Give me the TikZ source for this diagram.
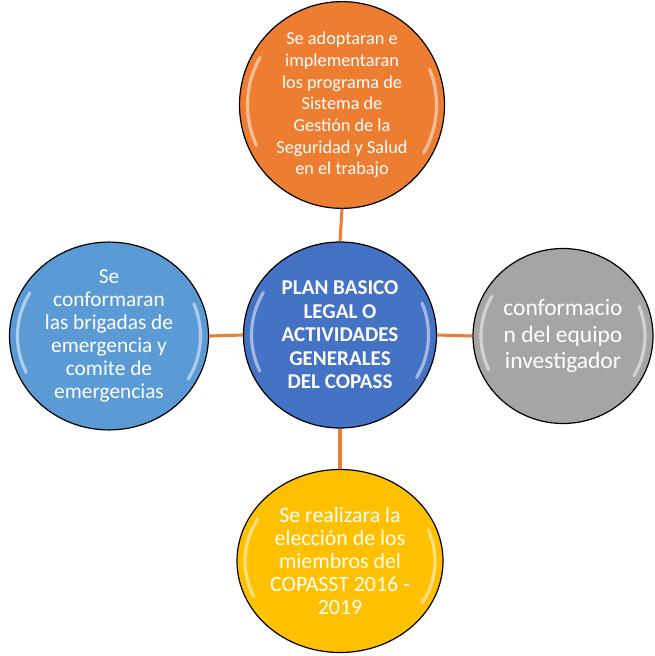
\documentclass[tikz,border=0pt]{standalone}
\usepackage{fontspec}
\setmainfont{Carlito}
\usepackage{xcolor}
\usetikzlibrary{shapes.geometric,calc}

\definecolor{oforange}{HTML}{ED7D31}
\definecolor{ofblue}{HTML}{4472C4}
\definecolor{oflight}{HTML}{5B9BD5}
\definecolor{ofgray}{HTML}{A5A5A5}
\definecolor{ofgold}{HTML}{FFC000}

\tikzset{
  bubble/.style={draw=black, line width=0.9pt, ellipse, inner sep=0pt,
    text=white, align=center,
    path picture={
      \draw[white, opacity=0.5, line width=2.4pt, line cap=round]
        let \p1=($(path picture bounding box.north east)-(path picture bounding box.center)$) in
        ([shift={(150:{\x1-6pt} and {\y1-6pt})}]path picture bounding box.center)
          arc[start angle=150, end angle=205, x radius=\x1-6pt, y radius=\y1-6pt]
        ([shift={(-30:{\x1-6pt} and {\y1-6pt})}]path picture bounding box.center)
          arc[start angle=-30, end angle=22, x radius=\x1-6pt, y radius=\y1-6pt];
    }},
  dims/.style 2 args={minimum width=#1*0.75pt, minimum height=#2*0.75pt},
  link/.style={draw=oforange, line width=2.3pt}
}

\begin{document}
\begin{tikzpicture}[x=0.75pt, y=-0.75pt]
        \useasboundingbox (0,0) rectangle (655,656);

        % Centre
        \node[bubble, fill=ofblue, dims={193}{186},
              font=\fontsize{15.8}{17.6}\selectfont\bfseries] (plan) at (340,335)
            {PLAN BASICO\\LEGAL O\\ACTIVIDADES\\GENERALES\\DEL COPASS};

        % Around it
        \node[bubble, fill=oforange, dims={205}{186},
              font=\fontsize{13.7}{16.3}\selectfont] (sgsst) at (342,105)
            {Se adoptaran e\\implementaran\\los programa de\\Sistema de\\Gestión de la\\Seguridad y Salud\\en el trabajo};
        \node[bubble, fill=oflight, dims={199}{187},
              font=\fontsize{16}{17.3}\selectfont] (brigadas) at (109,336)
            {Se\\conformaran\\las brigadas de\\emergencia y\\comite de\\emergencias};
        \node[bubble, fill=ofgray, dims={180}{175},
              font=\fontsize{17.6}{19.9}\selectfont] (equipo) at (563,336)
            {conformacio\\n del equipo\\investigador};
        \node[bubble, fill=ofgold, dims={206}{183},
              font=\fontsize{16.4}{17.3}\selectfont] (eleccion) at (340,561)
            {Se realizara la\\elección de los\\miembros del\\COPASST 2016 -\\2019};

        \draw[link] (plan.north) -- (sgsst.south);
        \draw[link] (plan.west) -- (brigadas.east);
        \draw[link] (plan.east) -- (equipo.west);
        \draw[link] (plan.south) -- (eleccion.north);
\end{tikzpicture}
\end{document}
